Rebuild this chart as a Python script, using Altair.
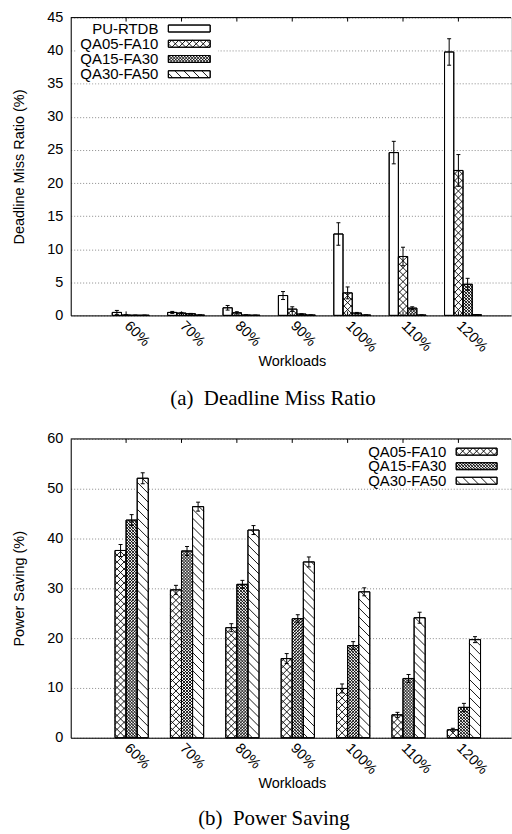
import json
import altair as alt
import pandas as pd

# ---------------- data ----------------
workloads = ["60%", "70%", "80%", "90%", "100%", "110%", "120%"]

dmr_series = ["PU-RTDB", "QA05-FA10", "QA15-FA30", "QA30-FA50"]
dmr_pu_rtdb = [0.45, 0.45, 1.15, 3.0, 12.3, 24.6, 39.8]
dmr_pu_rtdb_err = [0.3, 0.15, 0.35, 0.6, 1.7, 1.7, 2.0]
dmr_qa05 = [0.05, 0.35, 0.4, 0.95, 3.4, 8.9, 21.9]
dmr_qa05_err = [0.05, 0.1, 0.15, 0.35, 0.9, 1.4, 2.4]
dmr_qa15 = [0.02, 0.25, 0.05, 0.2, 0.35, 1.1, 4.7]
dmr_qa15_err = [0.02, 0.05, 0.03, 0.05, 0.1, 0.2, 0.9]
dmr_qa30 = [0.02, 0.05, 0.02, 0.05, 0.05, 0.05, 0.1]
dmr_qa30_err = [0.01, 0.01, 0.01, 0.01, 0.01, 0.01, 0.02]

ps_series = ["QA05-FA10", "QA15-FA30", "QA30-FA50"]
ps_qa05 = [37.6, 29.7, 22.1, 15.9, 9.9, 4.6, 1.6]
ps_qa05_err = [1.2, 0.9, 0.8, 1.0, 0.9, 0.5, 0.3]
ps_qa15 = [43.7, 37.5, 30.8, 23.9, 18.5, 11.9, 6.1]
ps_qa15_err = [1.1, 0.9, 0.8, 0.8, 0.8, 0.8, 0.8]
ps_qa30 = [52.1, 46.4, 41.7, 35.3, 29.3, 24.1, 19.7]
ps_qa30_err = [1.1, 0.9, 0.9, 1.0, 0.8, 1.1, 0.6]


def long_table(series, values, errors):
    rows = []
    for s, vals, errs in zip(series, values, errors):
        for i, (w, v, e) in enumerate(zip(workloads, vals, errs)):
            rows.append({"workload": w, "idx": i, "series": s, "value": v, "err": e})
    return pd.DataFrame(rows)


dmr_df = long_table(dmr_series,
                    [dmr_pu_rtdb, dmr_qa05, dmr_qa15, dmr_qa30],
                    [dmr_pu_rtdb_err, dmr_qa05_err, dmr_qa15_err, dmr_qa30_err])
ps_df = long_table(ps_series,
                   [ps_qa05, ps_qa15, ps_qa30],
                   [ps_qa05_err, ps_qa15_err, ps_qa30_err])

# ---------------- style / layout ----------------
FONT = "Liberation Sans"
SERIF = "Liberation Serif"
FS = 14.5
LEG_FS = 15
PAGE_W, PAGE_H = 512, 834
LEFT, TOP = 70, 15
PLOT_W = PAGE_W - LEFT
X_MIN, X_MAX = -1.0, 6.95
KX = PLOT_W / (X_MAX - X_MIN)

# fill patterns: (family, spacing in px)
PATTERNS = {
    "PU-RTDB": [],
    "QA05-FA10": [("back", 7), ("fwd", 7)],
    "QA15-FA30": [("back", 3), ("fwd", 3)],
    "QA30-FA50": [("back", 9)],
}

LABEL_EXPR = json.dumps(workloads) + "[datum.value]"


def make_axes(ymax, ystep, plot_h, ytitle):
    x_axis = alt.Axis(
        values=list(range(len(workloads))), labelExpr=LABEL_EXPR,
        labelAngle=45, labelAlign="left", labelBaseline="middle",
        labelPadding=8, ticks=False, grid=False,
        domainColor="black", domainWidth=1,
        labelFont=FONT, labelFontSize=FS, labelColor="black",
        labelFlush=False, labelOverlap=False,
        title="Workloads", titleFont=FONT, titleFontSize=FS,
        titleFontWeight="normal", titleColor="black",
        titleX=222, titleY=46, titleAlign="center", titleBaseline="middle",
    )
    y_axis = alt.Axis(
        values=list(range(0, ymax + 1, ystep)), ticks=False,
        grid=True, gridColor="#8a8a8a", gridDash=[1, 2], gridWidth=1,
        domainColor="black", domainWidth=1, labelPadding=8,
        labelFont=FONT, labelFontSize=FS, labelColor="black", labelFlush=False,
        title=ytitle, titleFont=FONT, titleFontSize=FS, titleFontWeight="normal",
        titleColor="black", titleX=-51, titleY=plot_h / 2, titleAngle=270,
        titleAlign="center", titleBaseline="middle",
    )
    return x_axis, y_axis


def hatch_layers(base, series, X, Y, ky):
    layers = []
    for s in series:
        for fam, d in PATTERNS[s]:
            c = base.transform_filter(alt.datum.series == s).transform_calculate(
                W=f"(datum.x2 - datum.x1) * {KX}",
                H=f"(datum.y2 - datum.y1) * {ky}",
            ).transform_calculate(
                seq=f"sequence(0, ceil((datum.W + datum.H) / {d}) + 1)"
            ).transform_flatten(["seq"])
            if fam == "back":
                c = c.transform_calculate(
                    cc=f"(datum.seq + 0.5) * {d}",
                ).transform_calculate(
                    ua="max(0, datum.cc - datum.H)",
                    ub="min(datum.W, datum.cc)",
                ).transform_calculate(
                    ta="datum.cc - datum.ua",
                    tb="datum.cc - datum.ub",
                )
            else:
                c = c.transform_calculate(
                    cc=f"(datum.seq + 0.5) * {d} - datum.W",
                ).transform_calculate(
                    ua="max(0, -datum.cc)",
                    ub="min(datum.W, datum.H - datum.cc)",
                ).transform_calculate(
                    ta="datum.ua + datum.cc",
                    tb="datum.ub + datum.cc",
                )
            c = c.transform_filter("datum.ub > datum.ua").transform_calculate(
                xa=f"datum.x1 + datum.ua / {KX}",
                xb=f"datum.x1 + datum.ub / {KX}",
                ya=f"datum.y1 + datum.ta / {ky}",
                yb=f"datum.y1 + datum.tb / {ky}",
            )
            layers.append(
                c.mark_rule(color="black", strokeWidth=0.9).encode(
                    x=X("xa"), x2="xb:Q", y=Y("ya"), y2="yb:Q",
                )
            )
    return layers


def panel(df, series, ymax, ystep, plot_h, ytitle, caption, cap_xy, leg, frame=None):
    ky = plot_h / ymax
    xs = alt.Scale(domain=[X_MIN, X_MAX], nice=False, zero=False)
    ys = alt.Scale(domain=[0, ymax], nice=False, zero=True)
    x_axis, y_axis = make_axes(ymax, ystep, plot_h, ytitle)

    def X(field):
        return alt.X(f"{field}:Q", scale=xs, axis=x_axis)

    def Y(field):
        return alt.Y(f"{field}:Q", scale=ys, axis=y_axis)

    n = len(series)
    band = 1.0 / (n + 2)
    half_cap = 2.0 / KX

    base = alt.Chart(df).transform_calculate(
        j=f"indexof({json.dumps(series)}, datum.series)"
    ).transform_calculate(
        x1=f"datum.idx + (datum.j - {n / 2} + 0.5) * {band}"
    ).transform_calculate(
        x2=f"datum.x1 + {band}",
        xc=f"datum.x1 + {band / 2}",
        y1="0",
        y2="datum.value",
        lo="max(0, datum.value - datum.err)",
        hi="datum.value + datum.err",
    ).transform_calculate(
        ca=f"datum.xc - {half_cap}",
        cb=f"datum.xc + {half_cap}",
    )

    layers = []
    # bars (white fill) - carries the axes
    layers.append(
        base.mark_rect(fill="white", stroke="black", strokeWidth=1).encode(
            x=X("x1"), x2="x2:Q", y=Y("y1"), y2="y2:Q",
        )
    )
    # invisible page frame (fixes the overall canvas to the page size)
    if frame is not None:
        fx1, fy1, fx2, fy2 = frame
        layers.append(
            alt.Chart(pd.DataFrame({"k": [0]})).mark_rect(fill="white", opacity=0).encode(
                x=alt.value(fx1), x2=alt.value(fx2), y=alt.value(fy1), y2=alt.value(fy2)
            )
        )
    # legend background (opaque key box)
    if leg.get("bg"):
        bx1, by1, bx2, by2 = leg["bg"]
        layers.append(
            alt.Chart(pd.DataFrame({"k": [0]})).mark_rect(fill="white").encode(
                x=alt.value(bx1), x2=alt.value(bx2), y=alt.value(by1), y2=alt.value(by2)
            )
        )
    layers += hatch_layers(base, series, X, Y, ky)
    # outlines
    layers.append(
        base.mark_rect(fillOpacity=0, stroke="black", strokeWidth=1).encode(
            x=X("x1"), x2="x2:Q", y=Y("y1"), y2="y2:Q",
        )
    )
    # error bars
    layers.append(
        base.mark_rule(color="black", strokeWidth=1).encode(
            x=X("xc"), y=Y("lo"), y2="hi:Q",
        )
    )
    for fld in ["lo", "hi"]:
        layers.append(
            base.mark_rule(color="black", strokeWidth=1).encode(
                x=X("ca"), x2="cb:Q", y=Y(fld),
            )
        )
    # top border + inward ticks
    layers.append(
        alt.Chart(pd.DataFrame({"k": [0]})).mark_rule(color="black", strokeWidth=1).encode(
            x=alt.value(0), x2=alt.value(PLOT_W), y=alt.value(0)
        )
    )
    tick_df = pd.DataFrame({"idx": list(range(len(workloads)))})
    layers.append(
        alt.Chart(tick_df).mark_rule(color="black", strokeWidth=1).encode(
            x=X("idx"), y=alt.value(0), y2=alt.value(4)
        )
    )
    layers.append(
        alt.Chart(tick_df).mark_rule(color="black", strokeWidth=1).encode(
            x=X("idx"), y=alt.value(plot_h), y2=alt.value(plot_h - 4)
        )
    )
    # legend
    leg_df = pd.DataFrame({"series": series, "row": list(range(n))})
    ry0, rdy, sh = leg["ry0"], leg["rdy"], leg["sh"]
    sx1, sx2 = leg["sx"]
    leg_base = alt.Chart(leg_df).transform_calculate(
        py=f"{ry0} + datum.row * {rdy}"
    ).transform_calculate(
        ly=f"{ymax} - datum.py / {ky}",
        y1=f"{ymax} - (datum.py + {sh / 2}) / {ky}",
        y2=f"{ymax} - (datum.py - {sh / 2}) / {ky}",
        x1=f"{X_MIN} + {sx1} / {KX}",
        x2=f"{X_MIN} + {sx2} / {KX}",
    )
    layers.append(
        leg_base.mark_text(align="right", baseline="middle", font=FONT,
                           fontSize=LEG_FS, color="black").encode(
            x=alt.value(leg["tx"]), y=Y("ly"), text="series:N",
        )
    )
    layers.append(
        leg_base.mark_rect(fill="white", stroke="black", strokeWidth=1).encode(
            x=X("x1"), x2="x2:Q", y=Y("y1"), y2="y2:Q",
        )
    )
    layers += hatch_layers(leg_base, series, X, Y, ky)
    layers.append(
        leg_base.mark_rect(fillOpacity=0, stroke="black", strokeWidth=1).encode(
            x=X("x1"), x2="x2:Q", y=Y("y1"), y2="y2:Q",
        )
    )
    # caption
    layers.append(
        alt.Chart(pd.DataFrame({"caption": [caption]})).mark_text(
            font=SERIF, fontSize=21, align="center", baseline="middle", color="black"
        ).encode(text="caption:N", x=alt.value(cap_xy[0]), y=alt.value(cap_xy[1]))
    )
    return alt.layer(*layers).properties(width=PLOT_W, height=plot_h)


top = panel(
    dmr_df, dmr_series, 45, 5, 299, "Deadline Miss Ratio (%)",
    "(a)\u00a0 Deadline Miss Ratio", (203, 383),
    {"bg": (6, 3, 148, 66), "ry0": 11, "rdy": 15.3, "sh": 7, "sx": (98, 140), "tx": 88},
    frame=(-LEFT, -TOP, PLOT_W, PAGE_H - TOP),
)
bottom = panel(
    ps_df, ps_series, 60, 10, 300, "Power Saving (%)",
    "(b)\u00a0 Power Saving", (204, 382),
    {"ry0": 12.8, "rdy": 14.6, "sh": 7, "sx": (387, 428), "tx": 377},
)

chart = alt.vconcat(top, bottom, spacing=124, bounds="flush").properties(
    autosize=alt.AutoSizeParams(type="pad"),
    padding=0,
).configure_view(stroke="transparent").configure(font=FONT)

chart.save("out.html", embed_options={"renderer": "svg", "actions": False})
